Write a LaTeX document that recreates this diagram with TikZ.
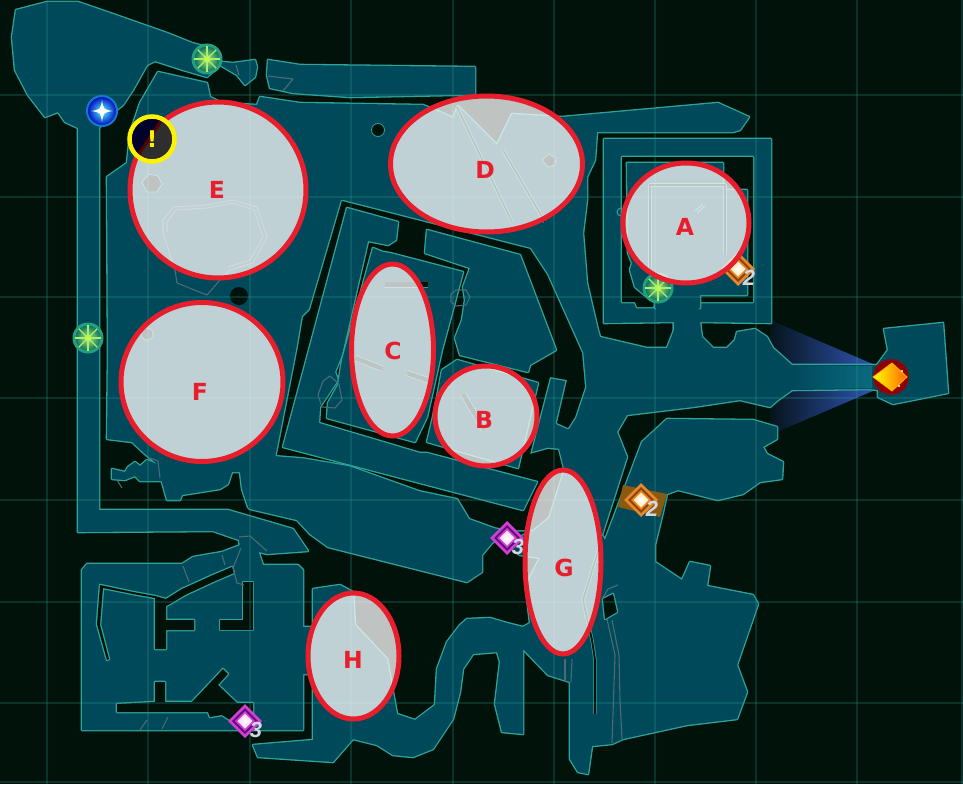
\documentclass[tikz,border=0pt]{standalone}
\usepackage{fontspec}
\setmainfont{DejaVu Sans}
\newfontfamily\numfont{Liberation Sans}
\definecolor{bgc}{HTML}{00120A}
\definecolor{landc}{HTML}{00495A}
\definecolor{edgec}{HTML}{2FA498}
\definecolor{gridc}{HTML}{2A9A90}
\definecolor{redc}{HTML}{E81E2C}
\definecolor{decoc}{HTML}{4E6A72}
\definecolor{silverc}{HTML}{D4D8E4}
\definecolor{fanl}{HTML}{06141C}
\definecolor{fanr}{HTML}{2F55B5}
\definecolor{glowc}{HTML}{0B6A80}
\definecolor{compring}{HTML}{22A080}
\definecolor{compin}{HTML}{14705E}
\definecolor{compray}{HTML}{A8F070}
\definecolor{purpA}{HTML}{D23FD2}
\definecolor{purpB}{HTML}{5E1078}
\definecolor{purpC}{HTML}{FFD0FF}
\definecolor{orA}{HTML}{E8862A}
\definecolor{orB}{HTML}{8A4408}
\definecolor{orC}{HTML}{FFE8B0}
\definecolor{orbg}{HTML}{8A5A10}
\tikzset{
  edgepass/.style={draw=edgec,line width=2.6pt,line join=round},
  landpass/.style={fill=landc},
  darkpass/.style={fill=bgc},
  spot/.style={draw=redc,line width=5pt,fill=white,fill opacity=0.75},
  spotlabel/.style={text=redc,font=\fontsize{23.5}{24}\selectfont\bfseries,inner sep=0pt},
  numlabel/.style={text=silverc,font=\numfont\fontsize{22}{22}\selectfont\bfseries\itshape,inner sep=0pt},
  decoline/.style={draw=decoc,line width=1.1pt,line join=round},
  slitline/.style={draw=edgec,line width=3.4pt,line join=round},
  slitcore/.style={draw=bgc,line width=1.8pt,line join=round},
  gridline/.style={draw=gridc,line width=1.2pt,opacity=0.24},
}
% land masses
\newcommand\landA{(16,10)--(47,2)--(78,2)--(110,13)--(167,33)--(192,43)--(207,47)--(222,62)--(233,63)--(255,60)--(257,67)--(255,77)--(245,85)--(237,75)--(220,65)--(207,77)--(183,70)--(155,61)--(147,65)--(133,90)--(123,105)--(113,113)--(99,128)--(99,510)--(228,510)--(293,529)--(308,551)--(267,554)--(240,547)--(239,540)--(213,531)--(78,532)--(78,128)--(65,122)--(58,112)--(45,117)--(28,95)--(15,70)--(12,37)--cycle}
\newcommand\landB{(268,60)--(300,65)--(475,67)--(475,95)--(453,95)--(350,97)--(293,93)--(270,88)--(267,75)--cycle}
\newcommand\landC{(107,177)--(127,163)--(130,133)--(140,103)--(158,72)--(207,83)--(210,97)--(222,103)--(257,105)--(260,97)--(300,103)--(423,105)--(440,112)--(453,118)--(458,106)--(497,145)--(512,114)--(562,117)--(718,103)--(749,117)--(740,130)--(733,132)--(597,132)--(595,160)--(587,177)--(587,200)--(583,233)--(587,283)--(598,330)--(600,337)--(647,348)--(667,348)--(674,330)--(674,322)--(700,322)--(702,337)--(713,348)--(727,348)--(735,340)--(737,332)--(755,329)--(767,337)--(773,348)--(792,365)--(875,365)--(875,389)--(792,390)--(778,400)--(770,407)--(740,400)--(693,407)--(627,415)--(617,432)--(627,457)--(602,535)--(563,470)--(548,517)--(532,530)--(510,530)--(492,543)--(482,555)--(482,572)--(467,582)--(328,547)--(310,534)--(297,520)--(250,509)--(248,507)--(242,489)--(240,472)--(232,472)--(228,484)--(220,489)--(182,495)--(180,500)--(167,500)--(157,464)--(145,454)--(132,442)--(107,439)--(108,353)--cycle}
\newcommand\landD{(642,442)--(667,419)--(753,420)--(777,427)--(777,439)--(763,447)--(767,454)--(783,462)--(782,479)--(760,482)--(743,494)--(718,500)--(678,490)--(667,494)--(663,512)--(655,545)--(655,562)--(682,580)--(690,562)--(710,566)--(707,586)--(753,595)--(758,604)--(737,665)--(747,692)--(737,719)--(687,725)--(623,739)--(612,744)--(592,746)--(588,774)--(578,772)--(570,759)--(570,682)--(548,675)--(523,649)--(523,734)--(502,732)--(495,704)--(500,662)--(497,652)--(473,654)--(463,669)--(460,692)--(453,719)--(433,749)--(413,757)--(393,755)--(377,745)--(353,739)--(333,762)--(258,757)--(253,745)--(313,740)--(313,589)--(340,585)--(353,592)--(355,625)--(387,659)--(397,714)--(415,720)--(435,705)--(437,669)--(447,642)--(460,625)--(467,619)--(490,618)--(507,623)--(523,627)--(530,623)--(526,590)--(530,577)--(540,558)--(520,555)--(507,545)--(532,530)--(548,517)--(563,470)--(595,480)--(602,535)--(605,540)--cycle}
\newcommand\landE{(604,139)--(771,139)--(771,323)--(700,322)--(700,340)--(674,340)--(674,322)--(604,323)--cycle}
\newcommand\landF{(884,329)--(943,323)--(948,393)--(923,398)--(893,404)--(878,397)--(878,390)--(870,389)--(870,366)--(877,365)--(888,350)--cycle}
\newcommand\landG{(112,469)--(125,472)--(128,467)--(135,462)--(140,466)--(147,460)--(157,464)--(175,490)--(163,481)--(140,481)--(135,476)--(125,480)--(112,479)--cycle}
\newcommand\landH{(82,570)--(87,564)--(165,564)--(182,564)--(193,557)--(222,552)--(243,544)--(258,550)--(263,565)--(298,565)--(303,570)--(303,627)--(320,627)--(320,674)--(303,674)--(303,730)--(82,730)--cycle}
\newcommand\eachland[1]{\path[#1] \landA;\path[#1] \landB;\path[#1] \landC;\path[#1] \landD;\path[#1] \landE;\path[#1] \landF;\path[#1] \landG;\path[#1] \landH;}
% dark structures on the land
\newcommand\darkBuild{(277,455)--(303,457)--(350,465)--(420,490)--(458,498)--(470,518)--(495,527)--(510,530)--(532,530)--(548,517)--(563,470)--(558,450)--(548,449)--(530,454)--(550,377)--(567,380)--(557,423)--(568,428)--(575,417)--(585,387)--(582,353)--(547,275)--(530,249)--(342,201)--(310,310)--(303,317)--(298,347)--cycle}
\newcommand\darkS{(117,704)--(155,702)--(155,682)--(165,682)--(165,702)--(192,702)--(223,669)--(228,674)--(218,685)--(237,703)--(253,703)--(253,722)--(230,720)--(222,715)--(210,717)--(208,712)--(117,712)--cycle}
\newcommand\darkT{(155,596)--(166,599)--(182,589)--(213,575)--(232,567)--(234,573)--(213,582)--(185,595)--(170,604)--(166,606)--(166,620)--(194,620)--(194,630)--(166,630)--(166,649)--(155,649)--cycle}
\newcommand\darkU{(243,582)--(253,582)--(253,630)--(220,630)--(220,620)--(243,620)--cycle}
\newcommand\darkV{(100,585)--(133,592)--(155,596)--(155,598)--(133,594)--(103,588)--(100,625)--(109,659)--(107,660)--(97,624)--cycle}
\newcommand\darkW{(603,599)--(613,594)--(617,612)--(605,619)--cycle}
\newcommand\eachdark[1]{\path[#1] \darkS;\path[#1] \darkT;\path[#1] \darkU;\path[#1] \darkV;\path[#1] \darkW;}
% pieces of the central building
\newcommand\roomRing{(283,447)--(347,208)--(398,222)--(396,240)--(388,245)--(368,241)--(342,355)--(335,372)--(338,380)--(320,407)--(319,423)--(420,453)--(427,453)--(537,482)--(523,510)--(420,483)--cycle}
\newcommand\roomC{(373,248)--(383,252)--(390,253)--(463,272)--(452,313)--(442,350)--(432,395)--(427,417)--(415,442)--(327,418)--(328,403)--(338,385)--(342,360)--cycle}
\newcommand\roomN{(427,230)--(520,255)--(556,350)--(530,365)--(528,372)--(460,355)--(455,338)--(462,320)--(465,300)--(463,287)--(470,268)--(425,253)--cycle}
\newcommand\roomB{(457,360)--(538,383)--(518,468)--(427,442)--(433,417)--(437,397)--(442,370)--cycle}
\newcommand\roomInner{(627,163)--(723,163)--(723,190)--(747,190)--(747,295)--(700,295)--(700,308)--(655,308)--(655,300)--(647,297)--(635,287)--(630,270)--(632,263)--(628,253)--cycle}
\newcommand\darkInner{(622,157)--(753,157)--(753,302)--(700,302)--(655,302)--(653,307)--(637,307)--(635,302)--(622,302)--cycle}
% icons
\newcommand\compass[2]{\begin{scope}[shift={(#1,#2)}]
  \fill[compring] (0,0) circle (15.5);
  \shade[inner color=compray,outer color=compin] (0,0) circle (12.5);
  \foreach \a in {0,45,...,315}{\draw[draw=compray,line width=1.1pt] (0,0) -- (\a:13);}
  \shade[inner color=yellow!60!compray,outer color=compray] (0,0) circle (3.5);
\end{scope}}
\newcommand\gem[7]{\begin{scope}[shift={(#2,#3)}]
  \fill[#4] (0,-17)--(17,0)--(0,17)--(-17,0)--cycle;
  \fill[#5] (0,-13)--(13,0)--(0,13)--(-13,0)--cycle;
  \fill[#4] (0,-10)--(10,0)--(0,10)--(-10,0)--cycle;
  \shade[inner color=white,outer color=#6] (0,-7.5)--(7.5,0)--(0,7.5)--(-7.5,0)--cycle;
  \node[numlabel] (#1) at (11,8.5) {#7};
\end{scope}}
\begin{document}
\begin{tikzpicture}[x=1pt,y=-1pt]
\useasboundingbox (0,0) rectangle (963,784);
\fill[bgc] (0,0) rectangle (963,784);
% blue fan
\shade[left color=fanl,right color=fanr] (770,320)--(875,365)--(875,390)--(770,435)--cycle;
% land union: outline then fill
\eachland{edgepass}
\eachland{landpass}
% corridor glow
\shade[left color=landc,right color=glowc] (792,366)--(872,366)--(872,388)--(792,389)--cycle;
% dark structures
\path[edgepass] \darkBuild;
\eachdark{edgepass}
\path[darkpass] \darkBuild;
\eachdark{darkpass}
% building rooms
\path[edgepass] \roomRing; \path[landpass] \roomRing;
\path[edgepass] \roomC; \path[landpass] \roomC;
\path[edgepass] \roomN; \path[landpass] \roomN;
\path[edgepass] \roomB; \path[landpass] \roomB;
% square building A
\path[edgepass] \darkInner; \path[darkpass] \darkInner;
\path[edgepass] \roomInner; \path[landpass] \roomInner;
\fill[landc] (656,299) rectangle (699,310);
\draw[slitline] (650,268)--(650,185)--(725,185)--(725,255);
\draw[slitcore] (650,268)--(650,185)--(725,185)--(725,255);
\draw[edgec,line width=1pt] (695,211)--(703,204);
\draw[edgec,line width=1pt] (697,213)--(705,206);
\draw[edgec,line width=1pt] (621,216) arc (90:270:4);
% thin slits
\draw[slitline] (600,545)--(583,600)--(592,640)--(595,660)--(595,714);
\draw[slitcore] (600,545)--(583,600)--(592,640)--(595,660)--(595,714);
% bars in the rooms
\foreach \ax/\ay/\bx/\by in {385/284.5/428/284.5,355/358/383/369,407/373/430/381,463/394/484/430}{
  \draw[edgec,line width=6pt] (\ax,\ay)--(\bx,\by);
  \draw[bgc,line width=4.5pt] (\ax,\ay)--(\bx,\by);
}
% walls crossing region D
\draw[slitline] (457,107)--(512,222);
\draw[slitcore] (457,107)--(512,222);
\draw[slitline] (503,150)--(545,222);
\draw[slitcore] (503,150)--(545,222);
% holes
\fill[bgc,draw=edgec,line width=0.8pt] (378,130) circle (6.5);
\fill[bgc] (239,296) circle (9);
\fill[bgc,draw=edgec,line width=0.8pt] (147,334) circle (6);
\fill[bgc,draw=edgec,line width=0.8pt] (142,182)--(149,174)--(158,176)--(162,184)--(157,192)--(147,192)--cycle;
\fill[bgc,draw=edgec,line width=0.8pt] (542,160)--(549,154)--(556,158)--(555,165)--(548,167)--cycle;
% grey details
\draw[decoline] (163,233)--(163,220)--(173,207)--(207,205)--(233,200)--(257,207)--(267,237)--(253,263)--(230,270)--(220,280)--(207,295)--(177,283)--(175,270)--cycle;
\draw[decoline] (167,232)--(167,222)--(176,210)--(207,208)--(233,203)--(254,210)--(263,237)--(250,260)--(228,267);
\draw[decoline] (268,76)--(293,79)--(283,91);
\draw[decoline] (236,65)--(239,75);
\draw[decoline] (330,376)--(339,384)--(342,400)--(335,408)--(322,407)--(318,395)--(323,381)--cycle;
\draw[decoline] (451,294)--(456,290)--(466,290)--(470,297)--(466,305)--(456,306)--(451,302)--cycle;
\draw[decoline] (122,488)--(117,480);
\draw[decoline] (150,458)--(158,461)--(160,478);
\draw[decoline] (239,537)--(250,536)--(267,551);
\draw[decoline] (222,555)--(225,565);
\draw[decoline] (241,548)--(233,568)--(237,583)--(244,585);
\draw[decoline] (183,566)--(189,582);
\draw[decoline] (147,720)--(140,730);
\draw[decoline] (168,717)--(162,729);
\draw[decoline] (618,585)--(608,589)--(602,599);
\draw[decoline] (607,619)--(615,655)--(612,743);
\draw[decoline] (612,620)--(619,655)--(620,700)--(622,739);
\draw[decoline] (565,659)--(565,682);
\draw[decoline] (572,659)--(571,682);
% grid
\foreach \gx in {47,148,250,351,453,554,655,756,857,962}{\draw[gridline] (\gx,0)--(\gx,784);}
\foreach \gy in {95,197,297,398,500,602,703,782}{\draw[gridline] (0,\gy)--(963,\gy);}
% compass icons
\compass{207}{59}
\compass{88}{338}
\compass{658}{288}
% blue waypoint
\shade[inner color=white!30!cyan,outer color=blue!75!black] (102,111) circle (15);
\draw[draw=cyan!60!blue,line width=2pt] (102,111) circle (15);
\fill[white] (102,100)..controls (103.5,109.5)..(113,111)..controls (103.5,112.5)..(102,122)..controls (100.5,112.5)..(91,111)..controls (100.5,109.5)..cycle;
% gems
\fill[orbg] (623,485)--(667,494)--(660,517)--(618,507)--cycle;
\gem{gemA}{738}{269}{orA}{orB}{orC}{2}
\gem{gemB}{641}{500}{orA}{orB}{orC}{2}
\gem{gemC}{507}{538}{purpA}{purpB}{purpC}{3}
\gem{gemD}{245}{721}{purpA}{purpB}{purpC}{3}
% red end marker
\shade[inner color=red!85!black,outer color=red!50!black] (891,377) circle (17);
\draw[draw=red!60!black,line width=1.5pt] (891,377) circle (17);
\shade[left color=yellow,right color=orange!80!red] (873,377)--(892,363)--(907,377)--(892,391)--cycle;
\draw[draw=orange!60!yellow,line width=0.8pt] (873,377)--(892,363)--(907,377)--(892,391)--cycle;
\fill[white] (902,371) circle (1.2);
\fill[white] (899,386) circle (1.2);
% highlighted zones
\path[spot] (686,223) ellipse [x radius=63,y radius=60];
\path[spot] (486,416) ellipse [x radius=51,y radius=50];
\path[spot] (392.5,350) ellipse [x radius=41,y radius=86];
\path[spot] (486.5,164) ellipse [x radius=96,y radius=68];
\path[spot] (218,190) ellipse [x radius=88,y radius=88];
\path[spot] (202,382) ellipse [x radius=81,y radius=79.5];
\path[spot] (563,562) ellipse [x radius=38,y radius=92];
\path[spot] (353.5,656) ellipse [x radius=45.5,y radius=63];
\node[spotlabel] (la) at (685,227) {A};
\node[spotlabel] (lb) at (484,420) {B};
\node[spotlabel] (lc) at (393,351) {C};
\node[spotlabel] (ld) at (485,170) {D};
\node[spotlabel] (le) at (217,190) {E};
\node[spotlabel] (lf) at (200,392) {F};
\node[spotlabel] (lg) at (564,568) {G};
\node[spotlabel] (lh) at (353,660) {H};
% warning marker
\begin{scope}
\clip (152,139) circle (22);
\fill[black!82!white] (125,115) rectangle (180,165);
\fill[blue!20!black!85!black] (125,115)--(165,115)--(135,160)--(125,160)--cycle;
\draw[red!35!black,line width=3pt] (165,115)--(135,160);
\end{scope}
\draw[yellow,line width=4.5pt] (152,139) circle (22.5);
\node[text=yellow,font=\fontsize{23}{23}\selectfont\bfseries,inner sep=0pt] (warn) at (152,139) {!};
\end{tikzpicture}
\end{document}
